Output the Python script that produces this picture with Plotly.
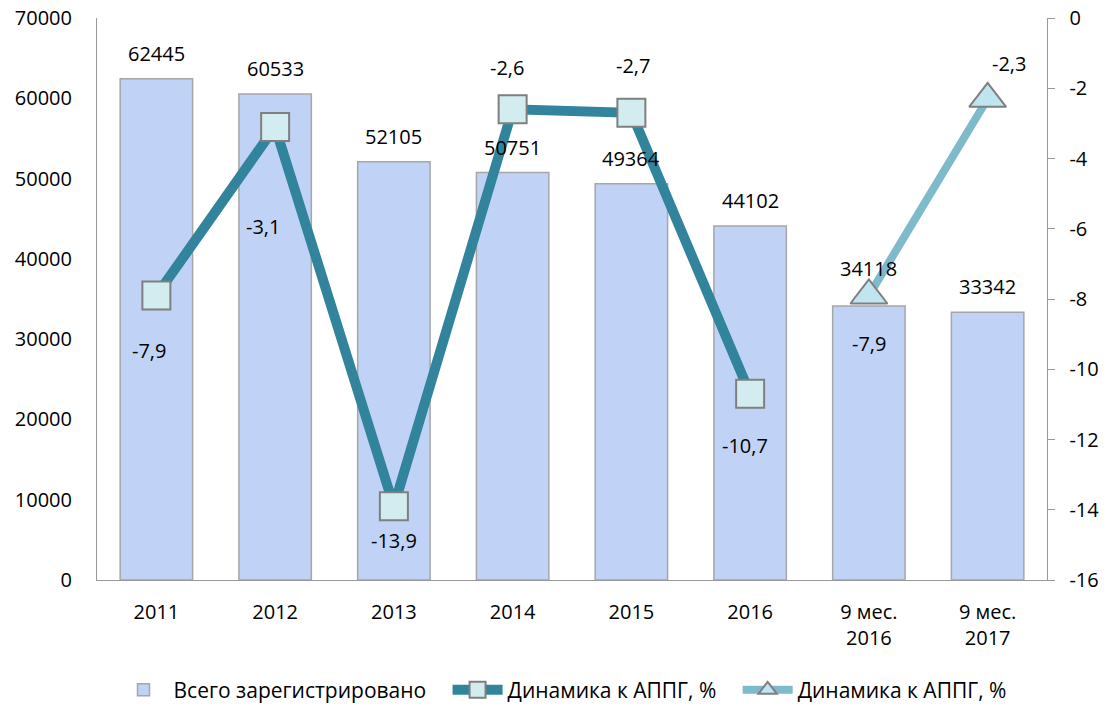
import plotly.graph_objects as go

categories = ["2011", "2012", "2013", "2014", "2015", "2016",
              "9 мес.<br>2016", "9 мес.<br>2017"]
registered = [62445, 60533, 52105, 50751, 49364, 44102, 34118, 33342]
dynamics_year = [-7.9, -3.1, -13.9, -2.6, -2.7, -10.7, None, None]
dynamics_9m = [None, None, None, None, None, None, -7.9, -2.3]
right_ticks = [0, -2, -4, -6, -8, -10, -12, -14, -16]

FONT = "Open Sans"
TEAL = "#31849B"
PAD = "\u00a0" * 3
xpos = list(range(len(categories)))


def fmt(v):
    return f"{v:.1f}".replace(".", ",")


fig = go.Figure()

fig.add_trace(go.Bar(
    x=xpos, y=registered, name="Всего зарегистрировано" + PAD,
    width=0.61,
    marker=dict(color="#C0D3F6", line=dict(color="#A6A6A6", width=1.5)),
))

fig.add_trace(go.Scatter(
    x=xpos, y=dynamics_year, name="Динамика к АППГ, %" + PAD, yaxis="y2",
    mode="lines+markers",
    line=dict(color=TEAL, width=10),
    marker=dict(symbol="square", size=28, color="#D3ECEF",
                line=dict(color="#7F7F7F", width=2)),
))

fig.add_trace(go.Scatter(
    x=xpos, y=dynamics_9m, name="Динамика к АППГ, %", yaxis="y2",
    mode="lines+markers",
    line=dict(color="#7DBACC", width=8),
    marker=dict(symbol="triangle-up", size=32, color="#BFE6F0",
                line=dict(color="#7F7F7F", width=2)),
))

# bar value labels
bar_shift = [10, 10, 10, 10, 10, 10, 22, 10]
for i, val, sh in zip(xpos, registered, bar_shift):
    fig.add_annotation(x=i, y=val, text=str(val), showarrow=False,
                       yref="y", yanchor="bottom", yshift=sh,
                       font=dict(family=FONT, size=20, color="black"))

# line value labels
line_dx = [-7, -12, 0, -6, 2, -5]
line_dy = [-55, -100, -34, 42, 47, -52]
for i, val, dx, dy in zip(xpos, dynamics_year, line_dx, line_dy):
    if val is None:
        continue
    fig.add_annotation(x=i, y=val, yref="y2", text=fmt(val), showarrow=False,
                       xshift=dx, yshift=dy,
                       font=dict(family=FONT, size=20, color="black"))

m_dx = [0, 21]
m_dy = [-48, 35]
for i, val, dx, dy in zip(xpos[6:], dynamics_9m[6:], m_dx, m_dy):
    fig.add_annotation(x=i, y=val, yref="y2", text=fmt(val), showarrow=False,
                       xshift=dx, yshift=dy,
                       font=dict(family=FONT, size=20, color="black"))

fig.update_layout(
    width=1107, height=707,
    margin=dict(l=97, r=60, t=18, b=127, autoexpand=False),
    plot_bgcolor="white", paper_bgcolor="white",
    font=dict(family=FONT, size=20, color="black"),
    showlegend=True,
    legend=dict(orientation="h", x=0.49, xanchor="center", y=-0.196,
                yanchor="middle", font=dict(size=21),
                itemwidth=50, traceorder="normal"),
    xaxis=dict(range=[-0.5, 7.5], tickvals=xpos, ticktext=categories,
               showgrid=False, showline=True, linecolor="#999999",
               ticks="", zeroline=False, ticklabelstandoff=14),
    yaxis=dict(range=[0, 70000], dtick=10000, showgrid=False,
               showline=True, linecolor="#999999", ticks="",
               tickformat="d", ticklabelstandoff=20,
               ticklabeloverflow="allow"),
    yaxis2=dict(range=[-16, 0], tickvals=right_ticks,
                ticktext=["\u00a0\u00a0" + str(t) if t else "\u00a0\u00a00"
                          for t in right_ticks],
                overlaying="y", side="right",
                showgrid=False, showline=True, linecolor="#999999",
                ticks="outside", ticklen=7, tickcolor="#999999",
                zeroline=False, ticklabeloverflow="allow"),
)

# page body has a default 8px margin; drop it so the chart fills the window
fig.write_html("out.html", config={"displayModeBar": False},
               post_script="document.body.style.margin='0';")
